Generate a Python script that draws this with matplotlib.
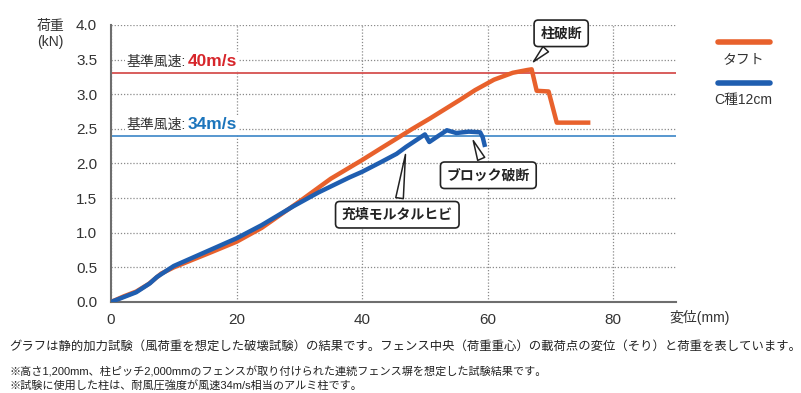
import matplotlib.pyplot as plt
from matplotlib.lines import Line2D

plt.rcParams['font.family'] = ['Liberation Sans', 'Noto Sans CJK JP', 'DejaVu Sans']

# --- data ---
tuft_x = [0, 2, 4, 6, 8, 10, 13, 16, 20, 24, 27, 30, 35, 40, 43, 45.5, 48, 50.8,
          55.6, 58, 61, 64, 66.3, 67.0, 67.8, 69.7, 71.0, 76]
tuft_y = [0, 0.08, 0.15, 0.26, 0.41, 0.50, 0.61, 0.72, 0.87, 1.07, 1.26, 1.45, 1.78,
          2.05, 2.22, 2.36, 2.50, 2.65, 2.92, 3.06, 3.21, 3.31, 3.35, 3.36, 3.05,
          3.04, 2.59, 2.59]

c12_x = [0, 2, 4, 6.2, 7.3, 10, 14, 20, 24, 29, 33, 38, 40, 43, 45.5, 47, 50, 50.7,
         52, 53.5, 55, 57, 58.8, 59.2, 59.5]
c12_y = [0, 0.07, 0.14, 0.27, 0.36, 0.52, 0.68, 0.92, 1.11, 1.38, 1.58, 1.80, 1.88,
         2.02, 2.14, 2.24, 2.42, 2.31, 2.39, 2.48, 2.44, 2.46, 2.45, 2.38, 2.27]

wind40_load = 3.3
wind34_load = 2.4

x_ticks = [0, 20, 40, 60, 80]
y_ticks = [0.0, 0.5, 1.0, 1.5, 2.0, 2.5, 3.0, 3.5, 4.0]

ORANGE = '#e8612c'
BLUE = '#1f5eb0'

fig = plt.figure(figsize=(8.01, 3.93), dpi=100)
ax = fig.add_axes([0.1386, 0.2316, 0.7054, 0.7048])

# grid and spines
ax.set_xlim(0, 90)
ax.set_ylim(0, 4.0)
ax.set_xticks(x_ticks)
ax.set_yticks(y_ticks)
ax.set_yticklabels([f'{v:.1f}' for v in y_ticks])
ax.grid(True, linestyle=(0, (1, 1.5)), color='#8a8a8a', linewidth=0.9)
ax.tick_params(length=0, labelsize=11, colors='#333333')
ax.tick_params(axis='y', pad=10)
ax.tick_params(axis='x', pad=8)
for s in ['top', 'right']:
    ax.spines[s].set_visible(False)
for s in ['left', 'bottom']:
    ax.spines[s].set_color('#6e6e6e')
    ax.spines[s].set_linewidth(1.5)
ax.set_axisbelow(True)

# reference wind speed lines
ax.axhline(wind40_load, color='#d5504f', linewidth=1.3, zorder=2)
ax.axhline(wind34_load, color='#4a8fcb', linewidth=1.3, zorder=2)

# curves
ax.plot(tuft_x, tuft_y, color=ORANGE, linewidth=3.2, solid_joinstyle='round', zorder=4)
ax.plot(c12_x, c12_y, color=BLUE, linewidth=3.2, solid_joinstyle='round', zorder=5)

# wind speed labels
for yv, val, col in [(3.47, '40m/s', '#d7262b'), (2.56, '34m/s', '#1c75bc')]:
    t = ax.text(2.5, yv, '基準風速:', fontsize=10, color='#333333', va='center',
                bbox=dict(facecolor='white', edgecolor='none', pad=1.5), zorder=3)
    ax.annotate(val, xy=(1, 0.5), xycoords=t, xytext=(1, 0), textcoords='offset points',
                fontsize=12.5, fontweight='bold', color=col, va='center', ha='left',
                bbox=dict(facecolor='white', edgecolor='none', pad=1.5), zorder=3)

# callouts
box = dict(boxstyle='round,pad=0.45,rounding_size=0.3', facecolor='white',
           edgecolor='#222222', linewidth=1.2)
wedge = dict(arrowstyle='wedge,tail_width=0.55', facecolor='white',
             edgecolor='#222222', linewidth=1.1, shrinkB=0)
callouts = [
    ('柱破断', (67.3, 3.47), (71.7, 3.88)),
    ('ブロック破断', (57.7, 2.33), (60.1, 1.83)),
    ('充填モルタルヒビ', (46.9, 2.13), (45.6, 1.26)),
]
for label, tip, pos in callouts:
    ax.annotate(label, xy=tip, xytext=pos, fontsize=10, fontweight='bold',
                color='#222222', ha='center', va='center', bbox=box,
                arrowprops=wedge, zorder=6)

# legend (line above label)
for y_line, y_lab, col, lab in [(0.893, 0.850, ORANGE, 'タフト'),
                                 (0.789, 0.746, BLUE, 'C種12cm')]:
    fig.add_artist(Line2D([0.896, 0.961], [y_line, y_line], color=col,
                          linewidth=4, solid_capstyle='round'))
    fig.text(0.9285, y_lab, lab, fontsize=10, color='#333333', ha='center', va='center')

# axis titles
fig.text(0.0625, 0.913, '荷重\n(kN)', fontsize=10, color='#333333', ha='center',
         va='center', linespacing=1.2)
fig.text(0.836, 0.191, '変位(mm)', fontsize=10, color='#333333', ha='left', va='center')

# footnotes
fig.text(0.012, 0.118, 'グラフは静的加力試験（風荷重を想定した破壊試験）の結果です。'
         'フェンス中央（荷重重心）の載荷点の変位（そり）と荷重を表しています。',
         fontsize=8.9, color='#222222', va='center')
fig.text(0.012, 0.054, '※高さ1,200mm、柱ピッチ2,000mmのフェンスが取り付けられた'
         '連続フェンス塀を想定した試験結果です。',
         fontsize=8, color='#222222', va='center')
fig.text(0.012, 0.020, '※試験に使用した柱は、耐風圧強度が風速34m/s相当のアルミ柱です。',
         fontsize=8, color='#222222', va='center')

fig.savefig('out.png', dpi=100)
